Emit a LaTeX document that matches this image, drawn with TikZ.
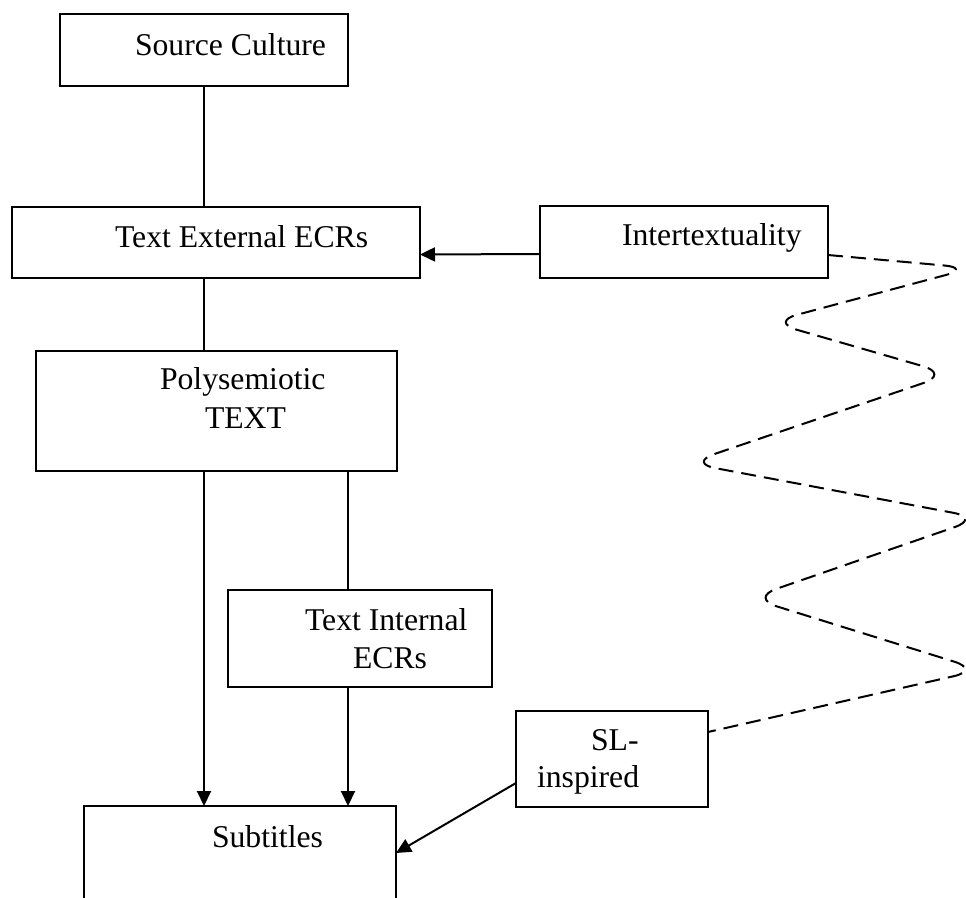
\documentclass[tikz,border=0pt]{standalone}
\usepackage{fontspec}
\setmainfont{Liberation Serif}
\usetikzlibrary{arrows.meta}
\begin{document}
\begin{tikzpicture}[x=1pt,y=1pt,
  box/.style={draw, line width=2pt, rectangle, inner sep=0pt, outer sep=0pt},
  lbl/.style={inner sep=0pt, outer sep=0pt, anchor=base west, font=\fontsize{31.7}{38}\selectfont},
  link/.style={line width=2pt},
  arr/.style={line width=2pt, -{Triangle[length=15pt,width=14pt]}},
  wave/.style={line width=2pt, dash pattern=on 15pt off 8pt, rounded corners=28pt}]
\useasboundingbox (0,0) rectangle (966,-897);
\clip (0,0) rectangle (966,-897);
% boxes
\node[box, minimum width=288pt, minimum height=72pt] (src) at (204,-50) {};
\node[box, minimum width=408pt, minimum height=71pt] (ext) at (216,-242.5) {};
\node[box, minimum width=288pt, minimum height=72pt] (inter) at (684,-242) {};
\node[box, minimum width=361pt, minimum height=120pt] (poly) at (216.5,-411) {};
\node[box, minimum width=264pt, minimum height=97pt] (int) at (360,-638.5) {};
\node[box, minimum width=192pt, minimum height=96pt] (sl) at (612,-759) {};
\node[box, minimum width=312pt, minimum height=134pt] (sub) at (240,-873) {};
% texts
\node[lbl] (tsrc) at (135,-55) {Source Culture};
\node[lbl] (text) at (115,-247) {Text External ECRs};
\node[lbl] (tinter) at (622,-245) {Intertextuality};
\node[lbl] (tpoly1) at (160,-389) {Polysemiotic};
\node[lbl] (tpoly2) at (205,-428) {TEXT};
\node[lbl] (tint1) at (305,-630) {Text Internal};
\node[lbl] (tint2) at (353,-668) {ECRs};
\node[lbl] (tsl1) at (591,-750) {SL-};
\node[lbl] (tsl2) at (537,-787) {inspired};
\node[lbl] (tsub) at (212,-847) {Subtitles};
% connectors
\draw[link] (src.south) -- (src.south |- ext.north);
\draw[link] (src.south |- ext.south) -- (src.south |- poly.north);
\draw[arr] ([yshift=-12pt]inter.west) -- ([yshift=-12pt]ext.east);
\draw[arr] (src.south |- poly.south) -- (src.south |- sub.north);
\draw[link] ([xshift=-12pt]int.north |- poly.south) -- ([xshift=-12pt]int.north);
\draw[arr] ([xshift=-12pt]int.south) -- ([xshift=-12pt]int.south |- sub.north);
\draw[arr] ([yshift=-24pt]sl.west) -- ([yshift=20pt]sub.east);
% wavy dashed link
\coordinate (w1) at (972,-268);
\coordinate (w2) at (770,-322);
\coordinate (w3) at (950,-374);
\coordinate (w4) at (688,-463);
\coordinate (w5) at (981,-518);
\coordinate (w6) at (750,-598);
\coordinate (w7) at (981,-670);
\draw[wave] ([yshift=-13pt]inter.east) -- (w1) -- (w2) -- (w3) -- (w4) -- (w5) -- (w6) -- (w7) -- ([yshift=27pt]sl.east);
\end{tikzpicture}
\end{document}
